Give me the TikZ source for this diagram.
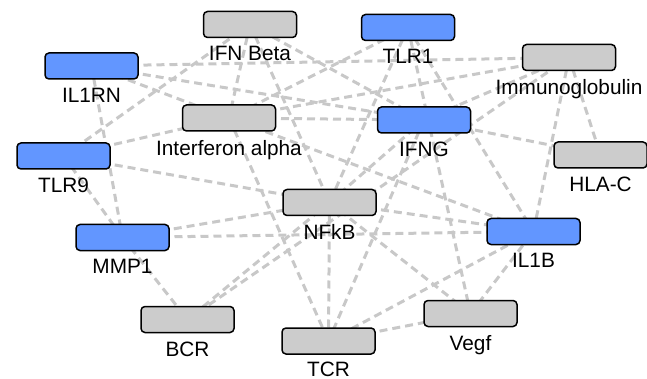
\documentclass[tikz,border=0pt]{standalone}
\usepackage{fontspec}
\setmainfont{Liberation Sans}
\usetikzlibrary{positioning,backgrounds}
\definecolor{hitblue}{RGB}{98,150,255}
\definecolor{boxgray}{RGB}{204,204,204}
\definecolor{linkgray}{RGB}{200,200,200}
\tikzset{
  gene/.style = {draw=black, line width=0.75pt, rounded corners=2pt,
    minimum width=46.5pt, minimum height=13pt, inner sep=0pt},
  hit/.style = {gene, fill=hitblue},
  other/.style = {gene, fill=boxgray},
  genename/.style = {font=\fontsize{10.4}{12}\selectfont, inner sep=0pt},
  link/.style = {draw=linkgray, line width=1.5pt, dash pattern=on 4pt off 2.5pt}
}

\begin{document}
\begin{tikzpicture}[x=0.5pt, y=-0.5pt]

  \useasboundingbox (0,0) rectangle (647,379);

  % genes
  \node[other] (ifnb)   at (250,24.5)  {};
  \node[hit]   (tlr1)   at (408,27.5)  {};
  \node[hit]   (il1rn)  at (91.5,66)   {};
  \node[other] (immuno) at (569,57.5)  {};
  \node[other] (ifna)   at (229,118)   {};
  \node[hit]   (ifng)   at (424,120)   {};
  \node[hit]   (tlr9)   at (63.5,156)  {};
  \node[other] (hlac)   at (600.5,155) {};
  \node[other] (nfkb)   at (329.5,202.5) {};
  \node[hit]   (mmp1)   at (122.5,237.5) {};
  \node[hit]   (il1b)   at (533.5,231.5) {};
  \node[other] (bcr)    at (187.5,319.5) {};
  \node[other] (tcr)    at (328.5,341) {};
  \node[other] (vegf)   at (470.5,313.5) {};

  % names
  \node[genename, below=4pt of ifnb]   (ifnb-l)   {IFN Beta};
  \node[genename, below=4pt of tlr1]   (tlr1-l)   {TLR1};
  \node[genename, below=4pt of il1rn]  (il1rn-l)  {IL1RN};
  \node[genename, below=4pt of immuno] (immuno-l) {Immunoglobulin};
  \node[genename, below=4pt of ifna]   (ifna-l)   {Interferon alpha};
  \node[genename, below=4pt of ifng]   (ifng-l)   {IFNG};
  \node[genename, below=4pt of tlr9]   (tlr9-l)   {TLR9};
  \node[genename, below=4pt of hlac]   (hlac-l)   {HLA-C};
  \node[genename, below=4pt of nfkb]   (nfkb-l)   {NFkB};
  \node[genename, below=4pt of mmp1]   (mmp1-l)   {MMP1};
  \node[genename, below=4pt of il1b]   (il1b-l)   {IL1B};
  \node[genename, below=4pt of bcr]    (bcr-l)    {BCR};
  \node[genename, below=3.5pt of tcr]  (tcr-l)    {TCR};
  \node[genename, below=4pt of vegf]   (vegf-l)   {Vegf};

  % interactions
  \begin{pgfonlayer}{background}
    \draw[link] (il1rn.center) -- (immuno.center);
    \draw[link] (il1rn.center) -- (ifng.center);
    \draw[link] (il1rn.center) -- (ifna.center);
    \draw[link] (il1rn.center) -- (mmp1.center);
    \draw[link] (tlr9.center) -- (ifnb.center);
    \draw[link] (tlr9.center) -- (ifna.center);
    \draw[link] (tlr9.center) -- (nfkb.center);
    \draw[link] (tlr9.center) -- (mmp1.center);
    \draw[link] (mmp1.center) -- (nfkb.center);
    \draw[link] (mmp1.center) -- (il1b.center);
    \draw[link] (mmp1.center) -- (bcr.center);
    \draw[link] (ifnb.center) -- (ifna.center);
    \draw[link] (ifnb.center) -- (nfkb.center);
    \draw[link] (ifnb.center) -- (ifng.center);
    \draw[link] (tlr1.center) -- (ifna.center);
    \draw[link] (tlr1.center) -- (nfkb.center);
    \draw[link] (tlr1.center) -- (vegf.center);
    \draw[link] (tlr1.center) -- (il1b.center);
    \draw[link] (ifna.center) -- (ifng.center);
    \draw[link] (ifna.center) -- (immuno.center);
    \draw[link] (ifna.center) -- (tcr.center);
    \draw[link] (ifna.center) -- (il1b.center);
    \draw[link] (ifng.center) -- (hlac.center);
    \draw[link] (ifng.center) -- (immuno.center);
    \draw[link] (ifng.center) -- (nfkb.center);
    \draw[link] (ifng.center) -- (tcr.center);
    \draw[link] (immuno.center) -- (hlac.center);
    \draw[link] (immuno.center) -- (il1b.center);
    \draw[link] (immuno.center) -- (bcr.center);
    \draw[link] (nfkb.center) -- (bcr.center);
    \draw[link] (nfkb.center) -- (tcr.center);
    \draw[link] (nfkb.center) -- (vegf.center);
    \draw[link] (nfkb.center) -- (il1b.center);
    \draw[link] (tcr.center) -- (vegf.center);
    \draw[link] (tcr.center) -- (il1b.center);
    \draw[link] (vegf.center) -- (il1b.center);
  \end{pgfonlayer}

\end{tikzpicture}
\end{document}
